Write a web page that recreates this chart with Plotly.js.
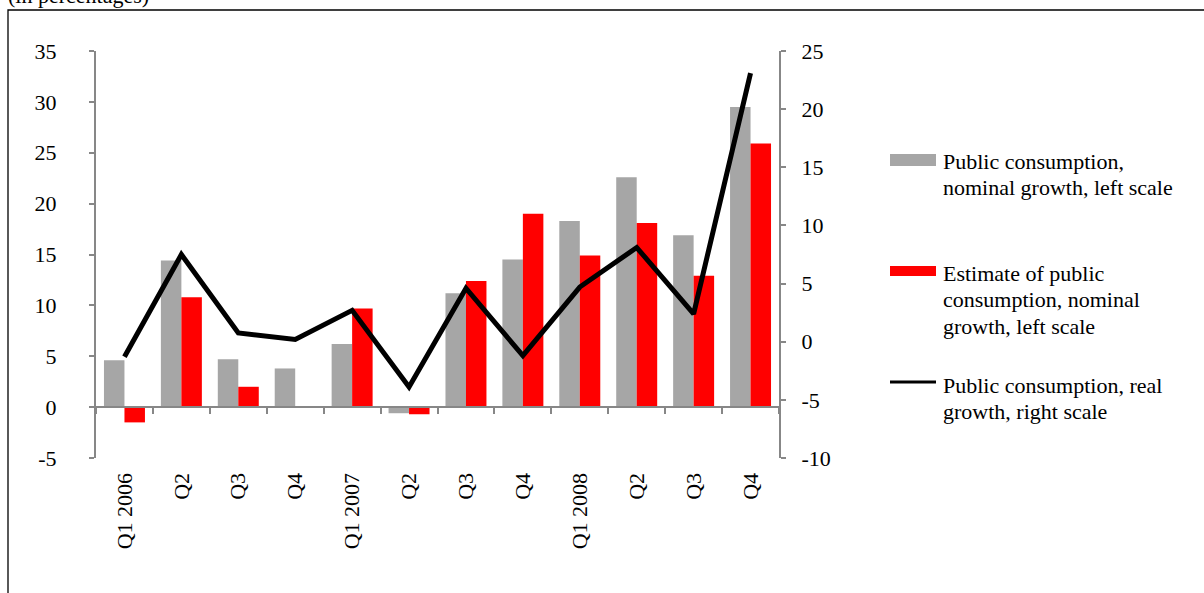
<!DOCTYPE html>
<html>
<head>
<meta charset="utf-8">
<script src="https://cdn.plot.ly/plotly-3.0.1.min.js"></script>
<style>
  html, body { margin: 0; padding: 0; background: #fff; }
  #chart { width: 1204px; height: 593px; }
</style>
</head>
<body>
<div id="chart"></div>
<script>
// Quarterly periods (unique keys) and the labels shown under the axis
const periods = ['2006Q1', '2006Q2', '2006Q3', '2006Q4',
                 '2007Q1', '2007Q2', '2007Q3', '2007Q4',
                 '2008Q1', '2008Q2', '2008Q3', '2008Q4'];
const periodLabels = ['Q1 2006', 'Q2', 'Q3', 'Q4',
                      'Q1 2007', 'Q2', 'Q3', 'Q4',
                      'Q1 2008', 'Q2', 'Q3', 'Q4'];

// Public consumption, nominal growth (left scale, %)
const nominalGrowth = [4.6, 14.4, 4.7, 3.8, 6.2, -0.6, 11.2, 14.5, 18.3, 22.6, 16.9, 29.5];
// Estimate of public consumption, nominal growth (left scale, %)
const nominalEstimate = [-1.5, 10.8, 2.0, 0.1, 9.7, -0.7, 12.4, 19.0, 14.9, 18.1, 12.9, 25.9];
// Public consumption, real growth (right scale, %)
const realGrowth = [-1.3, 7.5, 0.75, 0.2, 2.7, -3.9, 4.6, -1.2, 4.7, 8.1, 2.4, 23.1];

// Axis tick values (plain hyphen for negatives)
const leftTicks = [-5, 0, 5, 10, 15, 20, 25, 30, 35];
const rightTicks = [-10, -5, 0, 5, 10, 15, 20, 25];

const legendNames = [
  'Public consumption,<br>nominal growth, left scale',
  'Estimate of public<br>consumption, nominal<br>growth, left scale',
  'Public consumption, real<br>growth, right scale'
];

const serif = 'Liberation Serif, Times New Roman, serif';
const fs = 22;
const axisGrey = '#878787';

// Plot area in pixels
const W = 1204, H = 593;
const M = { l: 96, r: W - 779, t: 51, b: H - 458 };
const pw = W - M.l - M.r, ph = H - M.t - M.b;
const px = x => (x - M.l) / pw;          // pixel x -> paper x
const py = y => (H - M.b - y) / ph;      // pixel y -> paper y

const traces = [
  { type: 'bar', x: periods, y: nominalGrowth, name: legendNames[0],
    marker: { color: '#a6a6a6' }, showlegend: false, hoverinfo: 'y' },
  { type: 'bar', x: periods, y: nominalEstimate, name: legendNames[1],
    marker: { color: '#ff0000' }, showlegend: false, hoverinfo: 'y' },
  { type: 'scatter', mode: 'lines', x: periods, y: realGrowth, yaxis: 'y2',
    name: legendNames[2], line: { color: '#000000', width: 5 },
    showlegend: false, hoverinfo: 'y' }
];

// Hand-drawn legend: wide swatches with wrapped labels, one annotation per line
const swatchY = [160, 271, 382];
const firstLineY = [161, 273, 385];
const lineStep = 26.5;
const shapes = [
  // outer frame
  { type: 'rect', xref: 'paper', yref: 'paper',
    x0: px(8), x1: px(1300), y0: py(700), y1: py(10),
    line: { color: '#000', width: 1.3 }, fillcolor: 'rgba(0,0,0,0)', layer: 'below' },
  { type: 'rect', xref: 'paper', yref: 'paper',
    x0: px(890), x1: px(936), y0: py(swatchY[0] + 6), y1: py(swatchY[0] - 6),
    line: { width: 0 }, fillcolor: '#a6a6a6' },
  { type: 'rect', xref: 'paper', yref: 'paper',
    x0: px(890), x1: px(936), y0: py(swatchY[1] + 5), y1: py(swatchY[1] - 5),
    line: { width: 0 }, fillcolor: '#ff0000' },
  { type: 'line', xref: 'paper', yref: 'paper',
    x0: px(890), x1: px(936), y0: py(swatchY[2]), y1: py(swatchY[2]),
    line: { color: '#000', width: 3 } }
];

const annotations = [];
legendNames.forEach((name, i) => {
  name.split('<br>').forEach((line, j) => {
    annotations.push({
      text: line, xref: 'paper', yref: 'paper',
      x: px(941), y: py(firstLineY[i] + j * lineStep),
      xanchor: 'left', yanchor: 'middle', align: 'left', showarrow: false,
      font: { family: serif, size: fs, color: '#000' }
    });
  });
});
annotations.push({
  text: '(in percentages)', xref: 'paper', yref: 'paper', x: px(6), y: py(10),
  xanchor: 'left', yanchor: 'bottom', align: 'left', showarrow: false,
  font: { family: serif, size: fs, color: '#000' }
});

const axisCommon = {
  showline: true, linecolor: axisGrey, linewidth: 2,
  ticks: 'outside', tickwidth: 2, tickcolor: axisGrey,
  tickfont: { family: serif, size: fs, color: '#000' },
  showgrid: false, zeroline: false, fixedrange: true
};

const layout = {
  width: W, height: H,
  margin: M,
  paper_bgcolor: '#fff', plot_bgcolor: 'rgba(0,0,0,0)',
  barmode: 'group', bargap: 0.28, bargroupgap: 0,
  font: { family: serif, size: fs, color: '#000' },
  xaxis: Object.assign({}, axisCommon, {
    type: 'category', tickvals: periods, ticktext: periodLabels,
    anchor: 'free', position: 5 / 40,
    tickson: 'boundaries', ticklen: 6,
    tickangle: -90, ticklabelstandoff: 56
  }),
  yaxis: Object.assign({}, axisCommon, {
    range: [-5, 35], tickmode: 'array',
    tickvals: leftTicks, ticktext: leftTicks.map(String),
    ticklen: 5, ticklabelstandoff: 28
  }),
  yaxis2: Object.assign({}, axisCommon, {
    overlaying: 'y', side: 'right', anchor: 'x',
    range: [-10, 25], tickmode: 'array',
    tickvals: rightTicks, ticktext: rightTicks.map(String),
    ticklen: 5, ticklabelstandoff: 11
  }),
  shapes: shapes,
  annotations: annotations,
  showlegend: false
};

Plotly.newPlot('chart', traces, layout, { displayModeBar: false, staticPlot: true });
</script>
</body>
</html>
